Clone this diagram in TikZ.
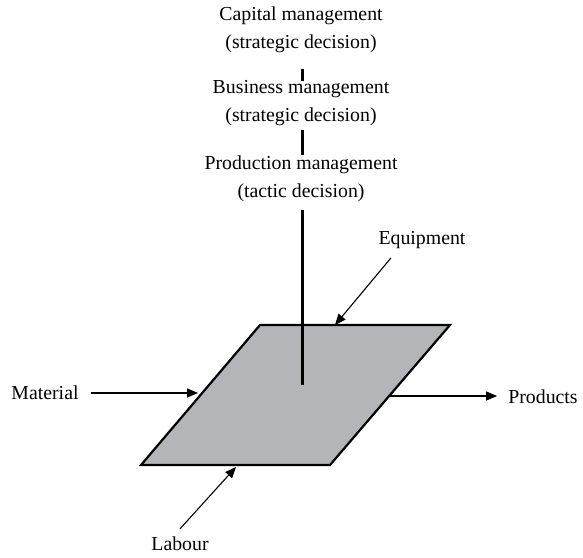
\documentclass[tikz,border=0pt]{standalone}
\usepackage{fontspec}
\setmainfont{Liberation Serif}
\usetikzlibrary{arrows.meta}
\definecolor{plantgray}{RGB}{180,181,184}
\tikzset{
    label-text/.style = {font=\fontsize{19.8}{28}\selectfont, inner sep=0pt, align=center},
    level-link/.style = {line width=3pt},
    flow-arrow/.style = {line width=1.1pt, -{Triangle[length=11pt, width=9pt]}},
    plant/.style = {draw=black, fill=plantgray, line width=2.2pt, line join=miter},
}

\begin{document}
\begin{tikzpicture}[x=1pt, y=-1pt]
\useasboundingbox (0,0) rectangle (583,557);
% decision levels
\node[label-text] (capital) at (301,30) {Capital management\\(strategic decision)};
\node[label-text] (business) at (301,103) {Business management\\(strategic decision)};
\node[label-text] (production) at (301,179) {Production management\\(tactic decision)};
% production system
\coordinate (tl) at (260,325);
\coordinate (tr) at (450,325);
\coordinate (br) at (330,465);
\coordinate (bl) at (141,465);
\draw[plant] (tl) -- (tr) -- (br) -- (bl) -- cycle;
\coordinate (hub) at (302,385);
\coordinate (equipment-in) at (335,325);
\coordinate (material-in) at (198,393);
\coordinate (labour-in) at (236,467);
\coordinate (products-out) at (389,396);
% inputs and outputs
\node[label-text] (equipment) at (422,240) {Equipment};
\node[label-text] (material) at (45,393) {Material};
\node[label-text] (products) at (543,397) {Products};
\node[label-text] (labour) at (180,544) {Labour};
\draw[level-link] ([yshift=-16pt]capital.south -| hub) -- ([yshift=-1pt]business.north -| hub);
\draw[level-link] ([yshift=-4pt]business.south -| hub) -- ([yshift=1pt]production.north -| hub);
\draw[level-link] ([yshift=-8pt]production.south -| hub) -- (hub);
\draw[flow-arrow] ([shift={(-31pt,-9pt)}]equipment.south) -- (equipment-in);
\draw[flow-arrow] ([xshift=12pt]material.east |- material-in) -- (material-in);
\draw[flow-arrow] (labour.north) ++(0pt,8pt) -- (labour-in);
\draw[flow-arrow] (products-out) -- ([xshift=-11pt]products.west |- products-out);
\end{tikzpicture}
\end{document}
